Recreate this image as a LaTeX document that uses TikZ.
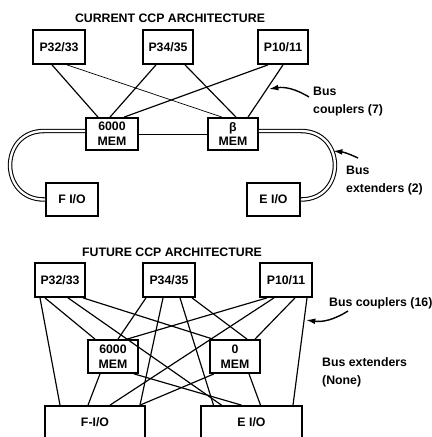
\documentclass[tikz,border=0pt]{standalone}
\usepackage{fontspec}
\setmainfont{Liberation Sans}
\usepackage{tikz}
\usetikzlibrary{calc,arrows.meta}

\tikzset{
  unit/.style={draw, line width=1.5pt, inner sep=0pt, align=center,
    minimum width=1.5cm, minimum height=1.02cm,
    font=\bfseries\fontsize{10.5}{12.5}\selectfont},
  coupler/.style={line width=1pt},
  extender/.style={double, line width=0.9pt, double distance=2pt},
  note/.style={align=left, anchor=north west, inner sep=0pt,
    font=\bfseries\fontsize{10.5}{15.3}\selectfont},
  caption/.style={font=\bfseries\fontsize{10.5}{12}\selectfont},
  pointer/.style={-{Latex[length=8pt,width=5pt]}, line width=1.2pt}
}

\begin{document}
\begin{tikzpicture}[x=0.03cm, y=-0.03cm]
\useasboundingbox (0,0) rectangle (432,437);

% current architecture
\node[caption] (titlea) at (170,18) {CURRENT CCP ARCHITECTURE};
\node[unit, minimum width=1.56cm] (p32a) at (59,47) {P32/33};
\node[unit] (p34a) at (168,47) {P34/35};
\node[unit] (p10a) at (283,47) {P10/11};
\node[unit, minimum width=1.56cm, minimum height=0.96cm] (m1a) at (112,134) {6000\\MEM};
\node[unit, minimum height=0.96cm] (m2a) at (233,134) {β\\MEM};
\node[unit, minimum width=1.56cm, minimum height=0.99cm] (fa) at (72,199.5) {F I/O};
\node[unit, minimum width=1.59cm, minimum height=0.99cm] (ea) at (273.5,199.5) {E I/O};

\draw[coupler] ($(p32a.south)+(-7,0)$) -- ($(m1a.north)+(-14,0)$);
\draw[coupler, line width=0.6pt] ($(p32a.south)+(8,0)$) -- ($(m2a.north)+(-11,0)$);
\draw[coupler] ($(p34a.south)+(-12,0)$) -- ($(m1a.north)+(-2,0)$);
\draw[coupler] ($(p34a.south)+(17,0)$) -- ($(m2a.north)+(3,0)$);
\draw[coupler] ($(p10a.south)+(-15,0)$) -- ($(m1a.north)+(12,0)$);
\draw[coupler] (p10a.south) -- ($(m2a.north)+(15,0)$);
\draw[coupler, line width=0.6pt] (m1a) -- (m2a);

% bus extenders
\draw[extender] ($(m1a.west)+(0,-3)$) -- ($(m1a.west)+(-41,-3)$)
  to[out=180, in=180, looseness=1.7] ($(fa.west)+(-1,0)$) -- (fa.west);
\draw[extender] ($(m2a.east)+(0,-3)$) -- ($(m2a.east)+(42,-3)$)
  to[out=0, in=0, looseness=1.7] (ea.east);

\coordinate (cpla-tail) at (309,97);
\coordinate (cpla-tip) at (269,89);
\draw[pointer] (cpla-tail) to[bend right=20] (cpla-tip);
\node[note] (cpla) at (313,87) {Bus\\couplers (7)};

\coordinate (exta-tail) at (358,158);
\coordinate (exta-tip) at (333,151);
\draw[pointer] (exta-tail) to[bend right=10] (exta-tip);
\node[note] (exta) at (346,166) {Bus\\extenders (2)};

% future architecture
\node[caption] (titleb) at (172,252) {FUTURE CCP ARCHITECTURE};
\node[unit] (p32b) at (60,280) {P32/33};
\node[unit, minimum width=1.56cm] (p34b) at (169,280) {P34/35};
\node[unit, minimum width=1.56cm] (p10b) at (286,280) {P10/11};
\node[unit, minimum height=0.99cm] (m1b) at (113,356.5) {6000\\MEM};
\node[unit, minimum height=0.99cm] (m2b) at (235,356.5) {0\\MEM};
\node[unit, minimum width=3cm, minimum height=0.96cm] (fb) at (95,422) {F-I/O};
\node[unit, minimum width=3.03cm, minimum height=0.96cm] (eb) at (251.5,422) {E I/O};

\draw[coupler] ($(p32b.south)+(-20,0)$) -- ($(fb.north)+(-35,0)$);
\draw[coupler] ($(p32b.south)+(-15,0)$) -- ($(m1b.north)+(-18,0)$);
\draw[coupler] ($(p32b.south)+(8,0)$) -- ($(eb.north)+(-30,0)$);
\draw[coupler] ($(p32b.south)+(23,0)$) -- ($(m2b.north)+(-22,0)$);
\draw[coupler] ($(p34b.south)+(-23,0)$) -- ($(m1b.north)+(5,0)$);
\draw[coupler] ($(p34b.south)+(-6,0)$) -- ($(fb.north)+(45,0)$);
\draw[coupler] ($(p34b.south)+(11,0)$) -- ($(eb.north)+(-38,0)$);
\draw[coupler] ($(p34b.south)+(23,0)$) -- ($(m2b.north)+(12,0)$);
\draw[coupler] ($(p10b.south)+(-19,0)$) -- ($(m1b.north)+(14,0)$);
\draw[coupler] ($(p10b.south)+(-12,0)$) -- ($(fb.north)+(15,0)$);
\draw[coupler] ($(p10b.south)+(9,0)$) -- ($(m2b.north)+(20,0)$);
\draw[coupler] ($(p10b.south)+(21,0)$) -- ($(eb.north)+(41.5,0)$);
\draw[coupler] ($(m1b.south)+(-13,0)$) -- ($(fb.north)+(-7,0)$);
\draw[coupler] ($(m1b.south)+(21,0)$) -- ($(eb.north)+(-10,0)$);
\draw[coupler] ($(m2b.south)+(-21,0)$) -- ($(fb.north)+(45,0)$);
\draw[coupler] ($(m2b.south)+(14,0)$) -- ($(eb.north)+(9,0)$);

\coordinate (cplb-tail) at (348,311);
\coordinate (cplb-tip) at (306,320);
\draw[pointer] (cplb-tail) to[bend left=20] (cplb-tip);
\node[caption, anchor=west] (cplb) at (325,303) {Bus couplers (16)};
\node[note] (extb) at (322,357) {Bus extenders\\(None)};
\end{tikzpicture}
\end{document}
